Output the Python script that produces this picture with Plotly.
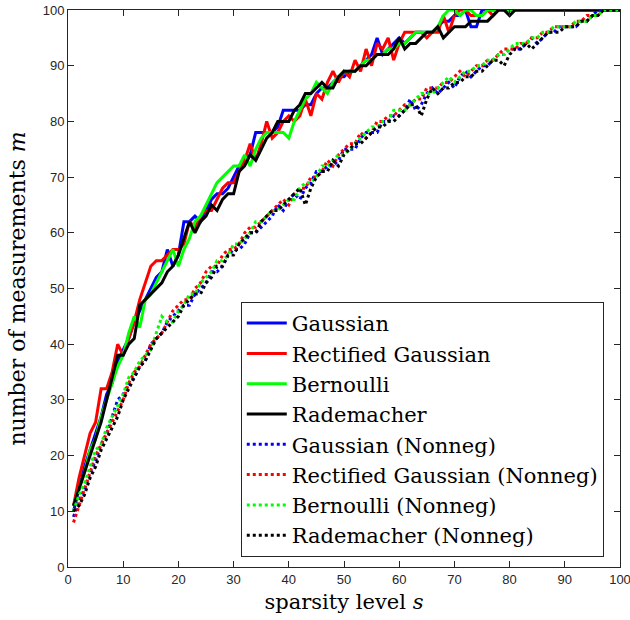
import plotly.graph_objects as go

s = list(range(1, 101))

gauss = [10,14,18,21,24,27,31,33,37,39,
         41,44,46,48,50,52,53,57,54,56,
         62,62,63,62,64,66,67,67,68,70,
         72,73,74,78,78,78,78,79,82,82,
         82,82,83,83,85,86,86,87,88,88,
         89,89,90,91,92,95,92,93,94,95,
         94,95,96,96,96,96,97,98,98,99,
         99,100,97,97,100,100,100,100,100,100,
         100,100,100,100,100,100,100,100,100,100,
         100,100,100,100,100,100,100,100,100,100]

rect = [11,16,20,24,26,32,32,35,40,38,
        41,44,48,51,54,55,55,56,57,57,
        58,62,61,63,64,64,66,68,69,69,
        71,73,76,73,76,80,77,78,80,81,
        80,81,84,81,85,84,87,89,87,89,
        88,91,89,93,90,94,93,95,91,94,
        96,96,96,96,95,96,96,99,96,99,
        100,100,99,99,99,100,99,100,100,100,
        100,100,100,100,100,100,100,100,100,100,
        100,100,100,100,100,100,100,100,100,100]

bern = [11,14,17,21,23,27,30,33,36,38,
        42,45,43,48,49,51,53,55,57,54,
        57,59,62,63,65,67,69,70,71,72,
        72,74,72,75,77,78,78,78,78,77,
        80,82,84,85,87,86,85,87,88,89,
        89,89,90,91,91,92,92,93,93,94,
        94,95,96,96,96,96,97,99,100,100,
        99,100,100,99,99,100,100,100,100,100,
        100,100,100,100,100,100,100,100,100,100,
        100,100,100,100,100,100,100,100,100,100]

radem = [11,14,17,20,23,26,30,34,38,38,
         40,41,47,48,49,50,51,53,54,56,
         59,62,60,62,63,65,64,66,67,67,
         71,72,74,73,75,77,78,80,80,80,
         82,83,85,85,86,87,86,86,88,89,
         89,89,90,90,91,92,92,92,93,95,
         93,94,94,95,96,96,97,95,96,97,
         97,97,98,98,98,98,99,100,100,99,
         100,100,100,100,100,100,100,100,100,100,
         100,100,100,100,100,100,100,100,100,100]

gauss_nn = [9,12,14,17,19,22,24,27,30,31,
            33,34,36,37,40,41,42,44,45,46,
            47,47,49,50,51,53,53,54,56,57,
            57,58,60,60,61,62,63,65,64,66,
            67,66,68,69,71,71,72,72,73,75,
            75,75,77,78,78,78,80,80,81,81,
            82,84,82,83,85,86,85,86,87,86,
            88,89,88,89,90,90,91,92,92,93,
            93,93,94,95,94,95,96,96,97,97,
            97,97,98,98,99,100,100,100,100,100]

rect_nn = [8,11,14,17,20,22,24,26,28,30,
           33,35,36,38,40,41,42,44,46,47,
           48,48,50,51,53,54,54,56,57,57,
           58,60,61,61,62,63,64,65,66,65,
           67,68,68,70,70,71,73,72,74,75,
           76,76,78,77,78,80,80,81,81,82,
           83,83,84,84,86,86,86,87,87,88,
           89,88,89,90,90,91,91,92,93,93,
           93,94,94,95,95,96,96,97,97,97,
           97,98,98,99,99,99,100,100,100,100]

bern_nn = [10,13,15,18,21,22,25,27,29,31,
           34,35,37,38,39,42,45,44,44,46,
           47,49,49,51,52,53,55,55,56,58,
           58,59,60,62,62,63,64,64,65,66,
           66,68,69,69,70,72,72,73,74,74,
           75,76,77,78,79,79,80,80,82,82,
           82,83,84,85,85,85,86,87,88,87,
           88,89,89,90,90,91,91,92,92,93,
           94,94,94,95,95,96,96,97,97,97,
           97,98,98,98,99,99,100,100,100,100]

radem_nn = [10,11,13,16,18,21,23,25,27,30,
            32,34,36,37,39,41,42,43,44,45,
            47,48,49,49,51,52,54,54,56,56,
            58,59,60,60,62,63,64,64,65,66,
            67,68,65,68,70,71,71,73,72,74,
            75,76,76,77,78,79,79,80,80,81,
            82,83,83,81,84,86,85,86,86,87,
            87,88,88,89,89,90,91,91,90,92,
            93,93,94,93,94,95,96,96,96,97,
            97,97,98,98,99,99,100,100,100,100]

names = ["Gaussian", "Rectified Gaussian", "Bernoulli", "Rademacher",
         "Gaussian (Nonneg)", "Rectified Gaussian (Nonneg)",
         "Bernoulli (Nonneg)", "Rademacher (Nonneg)"]
series = [gauss, rect, bern, radem, gauss_nn, rect_nn, bern_nn, radem_nn]
colors = ["#0000ff", "#ff0000", "#00ff00", "#000000"] * 2
dashes = ["solid"] * 4 + ["dot"] * 4

fig = go.Figure()
for i, (nm, ys) in enumerate(zip(names, series)):
    fig.add_trace(go.Scatter(
        x=s, y=ys, mode="lines", name=nm,
        line=dict(color=colors[i], width=3, dash=dashes[i]),
        legendgroup=f"g{i}",
    ))

axis_common = dict(
    showgrid=False, zeroline=False, showline=True, mirror="ticks",
    linecolor="#262626", linewidth=1, ticks="inside", ticklen=6,
    tickcolor="#262626", dtick=10, automargin=False,
    ticklabeloverflow="allow",
    tickfont=dict(family="Liberation Sans", size=13, color="#262626"),
)

fig.update_layout(
    width=630, height=620,
    margin=dict(l=68, r=10, t=10, b=53),
    paper_bgcolor="white", plot_bgcolor="white",
    xaxis=dict(range=[0, 100], tick0=0,
               title=dict(text="sparsity level <i>s</i>", standoff=8,
                          font=dict(family="DejaVu Serif", size=21, color="black")),
               **axis_common),
    yaxis=dict(range=[0, 100], tick0=0,
               title=dict(text="number of measurements <i>m</i>", standoff=10,
                          font=dict(family="DejaVu Serif", size=22, color="black")),
               **axis_common),
    legend=dict(
        x=0.313, y=0.018, xanchor="left", yanchor="bottom",
        bgcolor="white", bordercolor="#262626", borderwidth=1,
        font=dict(family="DejaVu Serif", size=21, color="black"),
        tracegroupgap=0, itemwidth=40,
    ),
    showlegend=True,
)

fig.write_html("out.html")
